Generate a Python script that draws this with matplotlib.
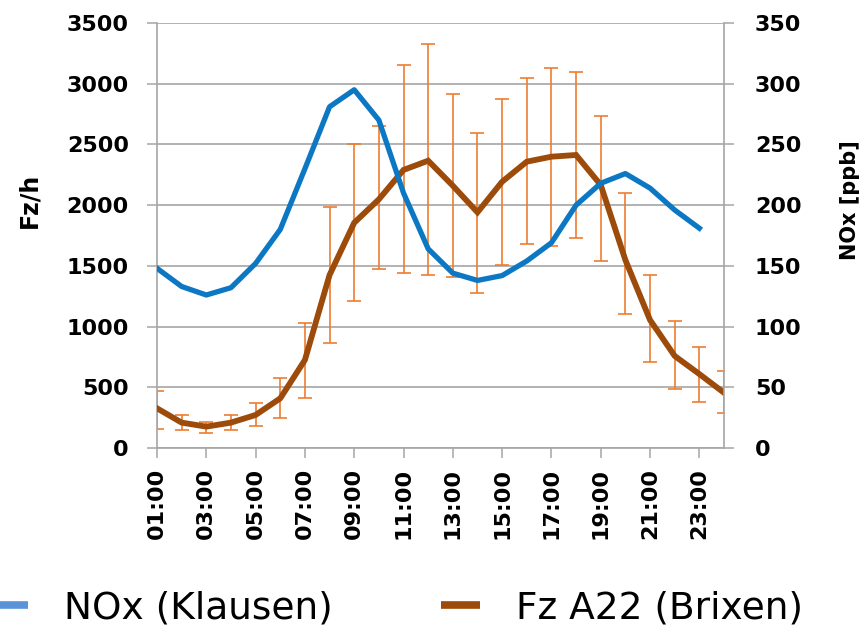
import numpy as np
import matplotlib
matplotlib.use("Agg")
import matplotlib.pyplot as plt
from matplotlib.lines import Line2D

# hourly categories
hours = [f"{h:02d}:00" for h in range(1, 25)]

# Fz A22 (Brixen), vehicles per hour (left axis)
fz_mean = [327, 209, 176, 209, 272, 409, 725, 1425, 1855, 2048, 2290, 2366,
           2160, 1941, 2193, 2358, 2399, 2413, 2166, 1548, 1054, 758, 609, 455]
fz_upper = [472, 272, 217, 272, 368, 579, 1032, 1982, 2501, 2652, 3154, 3327,
            2913, 2597, 2871, 3050, 3127, 3094, 2734, 2103, 1425, 1046, 834, 637]
fz_lower = [156, 148, 126, 148, 181, 244, 409, 867, 1213, 1471, 1438, 1425,
            1405, 1279, 1507, 1677, 1666, 1732, 1543, 1101, 711, 486, 381, 286]

# NOx (Klausen), ppb (right axis) - no value for 24:00
nox = [148, 133, 126, 132, 152, 180, 230, 281, 295, 270, 210, 164,
       144, 138, 142, 154, 169, 200, 218, 226, 214, 196, 181]

left_ticks = [0, 500, 1000, 1500, 2000, 2500, 3000, 3500]
right_ticks = [0, 50, 100, 150, 200, 250, 300, 350]

BLUE = "#0C78C4"
BLUE_LEG = "#5B93D8"
BROWN = "#9C4B0A"
ORANGE = "#EE7D30"
GRID = "#A6A6A6"

fig = plt.figure(figsize=(8.67, 6.29), dpi=100)
ax1 = fig.add_axes([157 / 867, 1 - 448 / 629, 567 / 867, 425 / 629])
ax2 = ax1.twinx()

x = np.arange(len(hours))
fz = np.array(fz_mean)
err = [fz - np.array(fz_lower), np.array(fz_upper) - fz]

# error bars first, then the mean line on top
ax1.errorbar(x, fz, yerr=err, fmt="none", ecolor=ORANGE, elinewidth=1.2,
             capsize=4.7, capthick=1.2, zorder=2)
ax1.plot(x, fz, color=BROWN, lw=4.2, solid_joinstyle="miter", zorder=3)
ax2.plot(x[:len(nox)], nox, color=BLUE, lw=3.8, zorder=3)

ax1.set_xlim(0, len(hours) - 1)
ax1.set_ylim(0, 3500)
ax2.set_ylim(0, 350)
ax1.set_yticks(left_ticks)
ax2.set_yticks(right_ticks)
ax1.set_xticks(x[::2])
ax1.set_xticklabels(hours[::2], rotation=90)

ax1.yaxis.grid(True, color=GRID, lw=1.2)
ax1.set_axisbelow(True)

for ax in (ax1, ax2):
    ax.spines["top"].set_visible(False)
    for s in ("left", "right", "bottom"):
        ax.spines[s].set_color(GRID)
        ax.spines[s].set_linewidth(1.2)
ax1.spines["right"].set_visible(False)
ax2.spines["left"].set_visible(False)
ax2.spines["bottom"].set_visible(False)

ax1.tick_params(axis="y", length=7.2, width=1.1, color=GRID, pad=13,
                labelsize=16)
ax1.tick_params(axis="x", length=7.2, width=1.1, color=GRID, pad=7,
                labelsize=16)
ax2.tick_params(axis="y", length=7.2, width=1.1, color=GRID, pad=15,
                labelsize=16)
for lab in ax1.get_xticklabels() + ax1.get_yticklabels() + ax2.get_yticklabels():
    lab.set_fontweight("bold")

ax1.set_ylabel("Fz/h", fontsize=17, fontweight="bold")
ax1.yaxis.set_label_coords(-0.204, 0.583)
ax2.set_ylabel("NOx [ppb]", fontsize=15, fontweight="bold")
ax2.yaxis.set_label_coords(1.205, 0.583)

handles = [Line2D([], [], color=BLUE_LEG, lw=5.5, solid_capstyle="butt"),
           Line2D([], [], color=BROWN, lw=5.5, solid_capstyle="butt")]
fig.legend(handles, ["NOx (Klausen)", "Fz A22 (Brixen)"], loc="center left",
           bbox_to_anchor=(-11 / 867, 1 - 608 / 629), ncol=2, frameon=False,
           fontsize=27, handlelength=1.04, handletextpad=0.96,
           columnspacing=2.88, borderpad=0, borderaxespad=0)

fig.savefig("out.png", dpi=100)
